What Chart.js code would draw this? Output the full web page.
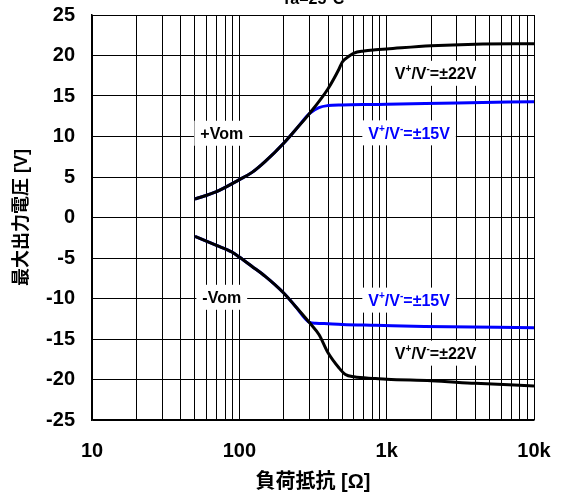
<!DOCTYPE html>
<html>
<head>
<meta charset="utf-8">
<script src="https://cdn.jsdelivr.net/npm/chart.js@4/dist/chart.umd.min.js"></script>
<style>
  html, body { margin: 0; padding: 0; background: #fff; }
  canvas { display: block; }
</style>
</head>
<body>
<canvas id="chart" width="562" height="498"></canvas>
<script>
// Load resistance [Ω] and maximum output voltage [V]
const posR22 = [50, 70, 100, 122, 150, 200, 240, 300, 400, 474, 500, 554, 600, 700, 840, 1000, 2000, 4000, 10000];
const posV22 = [2.28, 3.19, 4.67, 5.57, 6.93, 9.17, 10.8, 12.86, 15.9, 18.3, 19.2, 19.9, 20.3, 20.55, 20.7, 20.8, 21.2, 21.4, 21.45];

const posR15 = [50, 70, 100, 122, 150, 200, 240, 300, 347, 400, 500, 800, 1000, 3000, 10000];
const posV15 = [2.28, 3.19, 4.67, 5.57, 6.93, 9.17, 10.8, 12.86, 13.57, 13.82, 13.9, 13.95, 13.97, 14.15, 14.3];

const negR22 = [50, 70, 89, 100, 122, 150, 200, 240, 300, 347, 400, 474, 525, 600, 840, 1000, 2000, 4000, 10000];
const negV22 = [-2.33, -3.44, -4.26, -4.88, -6.04, -7.27, -9.32, -10.95, -13.0, -14.44, -16.7, -18.55, -19.38, -19.67, -19.88, -19.98, -20.15, -20.47, -20.8];

const negR15 = [50, 70, 89, 100, 122, 150, 200, 240, 300, 330, 400, 500, 840, 1800, 10000];
const negV15 = [-2.33, -3.44, -4.26, -4.88, -6.04, -7.27, -9.32, -10.95, -12.95, -13.05, -13.12, -13.2, -13.3, -13.45, -13.6];

// Axis ticks
const xTickValues = [10, 100, 1000, 10000];
const xTickLabels = ['10', '100', '1k', '10k'];
const yMin = -25, yMax = 25, yStep = 5;

// Curve labels: text (^ marks a superscript character) and where they sit, in data units
const curveLabels = [
  { text: '+Vom',         r: 76,   v: 10.4,   color: '#000000' },
  { text: 'V^+/V^-=±22V', r: 2150, v: 17.8,   color: '#000000' },
  { text: 'V^+/V^-=±15V', r: 1420, v: 10.45,  color: '#0000ff' },
  { text: '-Vom',         r: 76,   v: -9.85,  color: '#000000' },
  { text: 'V^+/V^-=±15V', r: 1420, v: -10.2,  color: '#0000ff' },
  { text: 'V^+/V^-=±22V', r: 2150, v: -16.75, color: '#000000' }
];
const chartTitle = 'Ta=25°C';

const FONT = "'Liberation Sans', Arial, 'Noto Sans CJK JP', sans-serif";

function toPoints(xs, ys) {
  return xs.map((x, i) => ({ x: x, y: ys[i] }));
}

// Minor grid: 1..9 within each decade
const gridValues = [];
for (let d = 10; d < 10000; d *= 10) {
  for (let m = 1; m < 10; m++) gridValues.push(d * m);
}
gridValues.push(10000);

function drawRichLabel(ctx, str, cx, cy, color) {
  const segs = [];
  for (let i = 0; i < str.length; i++) {
    if (str[i] === '^') {
      segs.push({ t: str[i + 1], sup: true });
      i++;
    } else if (segs.length && !segs[segs.length - 1].sup) {
      segs[segs.length - 1].t += str[i];
    } else {
      segs.push({ t: str[i], sup: false });
    }
  }
  const mainFont = 'bold 16px ' + FONT;
  const supFont = 'bold 10px ' + FONT;
  let w = 0;
  segs.forEach(s => {
    ctx.font = s.sup ? supFont : mainFont;
    s.w = ctx.measureText(s.t).width;
    w += s.w;
  });
  const padX = 6, boxH = 25;
  ctx.fillStyle = '#ffffff';
  ctx.fillRect(cx - w / 2 - padX, cy - boxH / 2, w + 2 * padX, boxH);
  let x = cx - w / 2;
  ctx.fillStyle = color;
  ctx.textAlign = 'left';
  ctx.textBaseline = 'alphabetic';
  segs.forEach(s => {
    ctx.font = s.sup ? supFont : mainFont;
    ctx.fillText(s.t, x, s.sup ? cy - 1 : cy + 6);
    x += s.w;
  });
}

const labelPlugin = {
  id: 'curveLabels',
  afterDatasetsDraw(chart) {
    const ctx = chart.ctx;
    const xs = chart.scales.x, ys = chart.scales.y;
    ctx.save();
    curveLabels.forEach(l => {
      drawRichLabel(ctx, l.text, xs.getPixelForValue(l.r), ys.getPixelForValue(l.v), l.color);
    });
    ctx.restore();
  },
  afterDraw(chart) {
    const ctx = chart.ctx;
    const area = chart.chartArea;
    ctx.save();
    ctx.font = 'bold 16px ' + FONT;
    ctx.fillStyle = '#000';
    ctx.textAlign = 'center';
    ctx.textBaseline = 'alphabetic';
    ctx.fillText(chartTitle, (area.left + area.right) / 2, 4);
    ctx.restore();
  }
};

const lineStyle = {
  borderWidth: 3,
  pointRadius: 0,
  fill: false,
  cubicInterpolationMode: 'monotone'
};

function noEdgePadding(scale) {
  scale.paddingTop = 0;
  scale.paddingBottom = 0;
  scale.paddingLeft = 0;
  scale.paddingRight = 0;
}

new Chart(document.getElementById('chart'), {
  type: 'line',
  data: {
    datasets: [
      Object.assign({ label: '+Vom ±22V', data: toPoints(posR22, posV22), borderColor: '#000000', order: 1 }, lineStyle),
      Object.assign({ label: '-Vom ±22V', data: toPoints(negR22, negV22), borderColor: '#000000', order: 1 }, lineStyle),
      Object.assign({ label: '+Vom ±15V', data: toPoints(posR15, posV15), borderColor: '#0000ff', order: 2 }, lineStyle),
      Object.assign({ label: '-Vom ±15V', data: toPoints(negR15, negV15), borderColor: '#0000ff', order: 2 }, lineStyle)
    ]
  },
  options: {
    responsive: false,
    animation: false,
    layout: { padding: { left: 0, right: 28, top: 15, bottom: 0 } },
    plugins: {
      legend: { display: false },
      tooltip: { enabled: false }
    },
    scales: {
      x: {
        type: 'logarithmic',
        min: 10,
        max: 10000,
        afterBuildTicks(scale) {
          scale.ticks = gridValues.map(v => ({ value: v }));
        },
        afterFit(scale) { scale.height = 78; noEdgePadding(scale); },
        grid: { color: '#000', lineWidth: 1, drawTicks: false },
        border: { display: true, color: '#000', width: 1.5 },
        ticks: {
          autoSkip: false,
          maxRotation: 0,
          padding: 19,
          color: '#000',
          font: { family: FONT, size: 20, weight: 'bold' },
          callback(value) {
            const i = xTickValues.indexOf(value);
            return i >= 0 ? xTickLabels[i] : '';
          }
        },
        title: {
          display: true,
          text: '負荷抵抗 [Ω]',
          color: '#000',
          font: { family: FONT, size: 20, weight: 'bold' },
          padding: { top: 0, bottom: 4 }
        }
      },
      y: {
        type: 'linear',
        min: yMin,
        max: yMax,
        afterFit(scale) { scale.width = 92; noEdgePadding(scale); },
        grid: { color: '#000', lineWidth: 1, drawTicks: false },
        border: { display: true, color: '#000', width: 1.5 },
        ticks: {
          stepSize: yStep,
          padding: 17,
          color: '#000',
          font: { family: FONT, size: 20, weight: 'bold' },
          callback(value) { return String(value); }
        },
        title: {
          display: true,
          text: '最大出力電圧 [V]',
          color: '#000',
          font: { family: FONT, size: 18, weight: 'bold' },
          padding: { top: 11, bottom: 0 }
        }
      }
    }
  },
  plugins: [labelPlugin]
});
</script>
</body>
</html>
